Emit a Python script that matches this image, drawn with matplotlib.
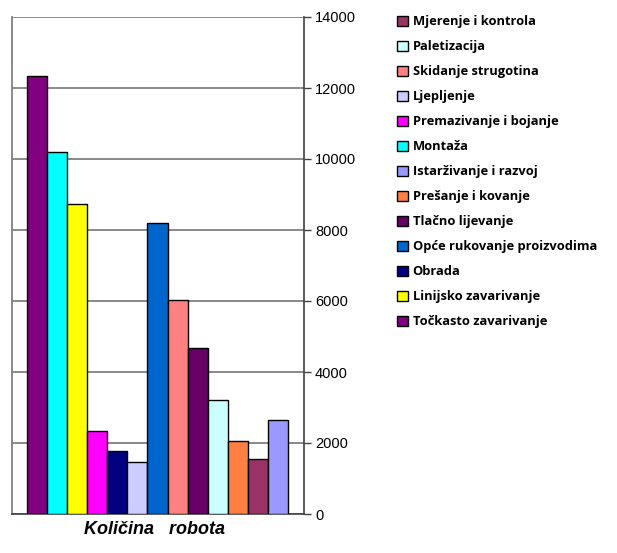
import matplotlib
matplotlib.use("Agg")
import matplotlib.pyplot as plt
from matplotlib.patches import Patch

# Bars, left to right
categories = ["Točkasto zavarivanje", "Montaža", "Linijsko zavarivanje",
              "Premazivanje i bojanje", "Obrada", "Ljepljenje",
              "Opće rukovanje proizvodima", "Skidanje strugotina",
              "Tlačno lijevanje", "Paletizacija", "Prešanje i kovanje",
              "Mjerenje i kontrola", "Istarživanje i razvoj"]
values = [12330, 10200, 8730, 2340, 1775, 1470, 8195, 6025, 4670,
          3225, 2070, 1550, 2660]
colors = ["#800080", "#00FFFF", "#FFFF00", "#FF00FF", "#000080", "#CCCCFF",
          "#0066CC", "#FF8080", "#660066", "#CCFFFF", "#FF8040", "#993366",
          "#9999FF"]

# Legend order, top to bottom
legend_order = ["Mjerenje i kontrola", "Paletizacija", "Skidanje strugotina",
                "Ljepljenje", "Premazivanje i bojanje", "Montaža",
                "Istarživanje i razvoj", "Prešanje i kovanje",
                "Tlačno lijevanje", "Opće rukovanje proizvodima", "Obrada",
                "Linijsko zavarivanje", "Točkasto zavarivanje"]

y_ticks = [0, 2000, 4000, 6000, 8000, 10000, 12000, 14000]
x_label = "Količina   robota"

W, H = 617, 553
fig = plt.figure(figsize=(W / 100, H / 100), dpi=100)
ax = fig.add_axes([12 / W, 1 - 514 / H, (304 - 12) / W, (514 - 17) / H])

xs = list(range(len(categories)))
ax.bar(xs, values, width=1.0, color=colors, edgecolor="black", linewidth=1.0,
       zorder=3)

ax.set_xlim(-1.25, 13.3)
ax.set_ylim(0, 14000)
ax.set_yticks(y_ticks)
ax.set_yticklabels([str(t) for t in y_ticks], fontfamily="Liberation Sans",
                   fontsize=10.5)
ax.yaxis.tick_right()
ax.tick_params(axis="y", direction="out", length=5, width=1, color="#404040",
               pad=3)
ax.set_xticks([])
ax.grid(axis="y", color="#808080", linewidth=1.3, zorder=0)

ax.spines["top"].set_visible(False)
ax.spines["left"].set_color("#808080")
ax.spines["left"].set_linewidth(1.3)
ax.spines["right"].set_color("#404040")
ax.spines["right"].set_linewidth(1.2)
ax.spines["bottom"].set_color("#404040")
ax.spines["bottom"].set_linewidth(1.2)

ax.set_xlabel(x_label, fontfamily="Liberation Sans", fontsize=13,
              fontweight="bold", fontstyle="italic", labelpad=1)
ax.xaxis.set_label_coords((155 - 12) / (304 - 12), -0.014)
ax.xaxis.label.set_verticalalignment("top")

color_of = dict(zip(categories, colors))
handles = [Patch(facecolor=color_of[n], edgecolor="black", linewidth=1.0,
                 label=n) for n in legend_order]
leg = fig.legend(handles=handles, loc="upper left",
                 bbox_to_anchor=(392 / W, 1 - 10 / H), frameon=False,
                 prop={"family": "Open Sans", "weight": "bold", "size": 9.3},
                 handlelength=0.8, handleheight=0.8, handletextpad=0.4,
                 labelspacing=0.93, borderaxespad=0)

fig.savefig("out.png", dpi=100)
